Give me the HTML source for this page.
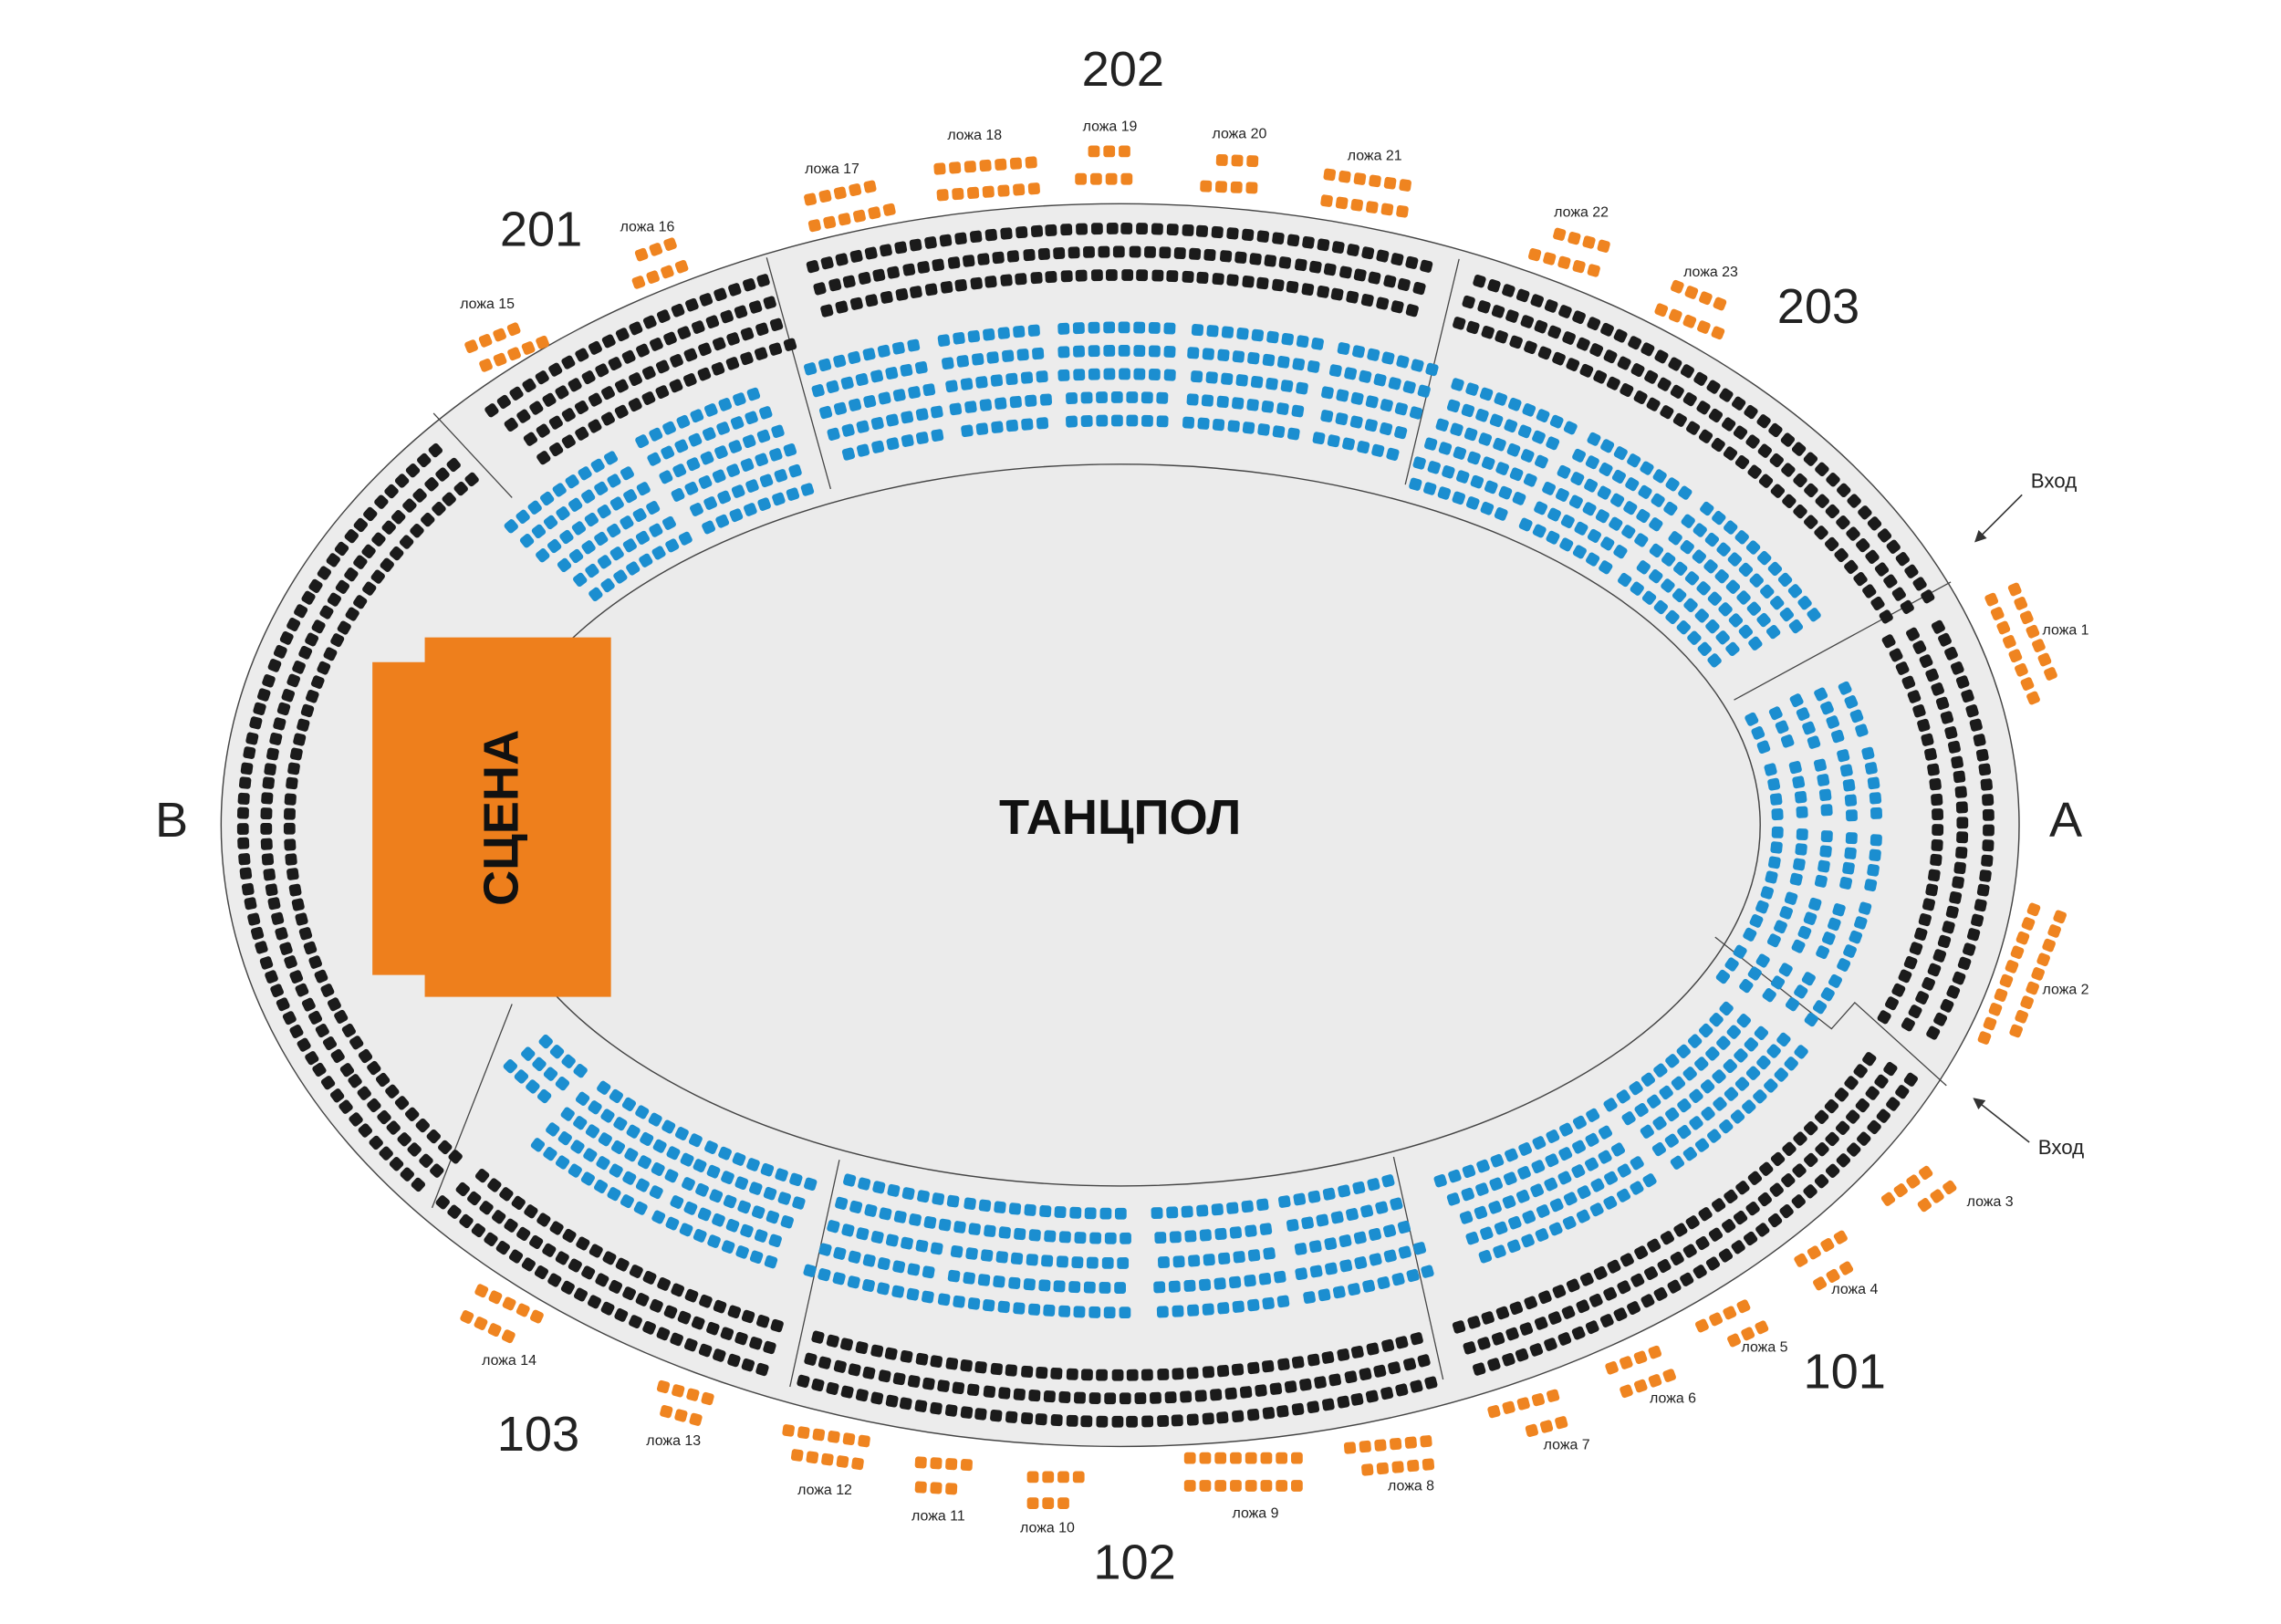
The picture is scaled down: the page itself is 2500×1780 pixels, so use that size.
<!DOCTYPE html>
<html><head><meta charset="utf-8">
<style>
html,body{margin:0;padding:0;background:#fff;}
svg{display:block;}
text{font-family:"Liberation Sans",sans-serif;}
</style></head>
<body>
<svg id="s" xmlns="http://www.w3.org/2000/svg" width="2500" height="1780" viewBox="0 0 1568 1116" preserveAspectRatio="none">
<rect width="1568" height="1116" fill="#fff"/>
<defs>
<marker id="ah" markerWidth="8" markerHeight="8" refX="7" refY="4" orient="auto" markerUnits="userSpaceOnUse">
<path d="M0,0 L8,4 L0,8 z" fill="#333"/></marker>
</defs>
<ellipse cx="770" cy="567" rx="618" ry="427" fill="#ececec" stroke="#444" stroke-width="0.9"/>
<ellipse cx="770" cy="567" rx="440" ry="248" fill="#ebebeb" stroke="#444" stroke-width="0.9"/>
<g stroke="#444" stroke-width="0.8" fill="none">
<polyline points="298,284 352,342"/>
<polyline points="527,177 571,336"/>
<polyline points="1003,178 966,333"/>
<polyline points="1341,400 1192,481"/>
<polyline points="1179,644 1259,707 1275,689 1338,746"/>
<polyline points="958,795 992,948"/>
<polyline points="577,797 543,953"/>
<polyline points="352,690 297,830"/>
</g>
<g id="seats"></g>
<g id="boxes"></g>
<path d="M292,438 H420 V685 H292 V670 H256 V455 H292 Z" fill="#ee7f1c"/>
<text x="0" y="0" transform="translate(356,562) rotate(-90)" text-anchor="middle" font-size="34" font-weight="bold" fill="#111">СЦЕНА</text>
<text x="770" y="573" text-anchor="middle" font-size="34" font-weight="bold" fill="#111">ТАНЦПОЛ</text>
<g font-size="34" fill="#222" text-anchor="middle">
<text x="772" y="59">202</text>
<text x="372" y="169">201</text>
<text x="1250" y="222">203</text>
<text x="1420" y="575">А</text>
<text x="118" y="575">В</text>
<text x="1268" y="954">101</text>
<text x="780" y="1085">102</text>
<text x="370" y="997">103</text>
</g>
<g font-size="14" fill="#222">
<text x="1396" y="335">Вход</text>
<text x="1401" y="793">Вход</text>
</g>
<line x1="1390" y1="340" x2="1358" y2="372" stroke="#333" stroke-width="1" marker-end="url(#ah)"/>
<line x1="1395" y1="785" x2="1357" y2="755" stroke="#333" stroke-width="1" marker-end="url(#ah)"/>
<g font-size="10" fill="#222" text-anchor="middle">
<text x="335" y="212">ложа 15</text>
<text x="445" y="159">ложа 16</text>
<text x="572" y="119">ложа 17</text>
<text x="670" y="96">ложа 18</text>
<text x="763" y="90">ложа 19</text>
<text x="852" y="95">ложа 20</text>
<text x="945" y="110">ложа 21</text>
<text x="1087" y="149">ложа 22</text>
<text x="1176" y="190">ложа 23</text>
<text x="1420" y="436">ложа 1</text>
<text x="1420" y="683">ложа 2</text>
<text x="1368" y="829">ложа 3</text>
<text x="1275" y="889">ложа 4</text>
<text x="1213" y="929">ложа 5</text>
<text x="1150" y="964">ложа 6</text>
<text x="1077" y="996">ложа 7</text>
<text x="970" y="1024">ложа 8</text>
<text x="863" y="1043">ложа 9</text>
<text x="720" y="1053">ложа 10</text>
<text x="645" y="1045">ложа 11</text>
<text x="567" y="1027">ложа 12</text>
<text x="463" y="993">ложа 13</text>
<text x="350" y="938">ложа 14</text>
</g>
</svg>
<script>
(function(){
var NS="http://www.w3.org/2000/svg";
var g=document.getElementById('seats');
var bx=document.getElementById('boxes');
var CX=770,CY=567,RX=618,RY=427;
function seat(par,x,y,ang,col){
 var r=document.createElementNS(NS,'rect');
 r.setAttribute('x',-4);r.setAttribute('y',-4);r.setAttribute('width',8);r.setAttribute('height',8);
 r.setAttribute('rx',2);r.setAttribute('fill',col);
 r.setAttribute('transform','translate('+x.toFixed(2)+','+y.toFixed(2)+') rotate('+ang.toFixed(1)+')');
 par.appendChild(r);
}
function row(d,t0,t1,col,pitch){
 pitch=pitch||10.4;
 var rx=RX-d, ry=RY-d, N=500, pts=[], L=0, prev=null;
 for(var i=0;i<=N;i++){
  var t=(t0+(t1-t0)*i/N)*Math.PI/180;
  var p=[CX+rx*Math.cos(t),CY+ry*Math.sin(t)];
  if(prev) L+=Math.hypot(p[0]-prev[0],p[1]-prev[1]);
  pts.push([p,L,t]); prev=p;
 }
 var n=Math.max(1,Math.floor(L/pitch)+1), off=(L-(n-1)*pitch)/2, j=0;
 for(var k=0;k<n;k++){
  var s=off+k*pitch;
  while(j<N && pts[j+1][1]<s) j++;
  var p=pts[j][0], t=pts[j][2];
  var ang=Math.atan2(ry*Math.cos(t),-rx*Math.sin(t))*180/Math.PI;
  seat(g,p[0],p[1],ang,col);
 }
}
var BK="#1b1b1b", BL="#1b8ed0", OR="#ef8420";
function blk(ds,t0,t1){ds.forEach(function(d){row(d,t0,t1,BK);});}
function blu(ds,blocks){ds.forEach(function(d){blocks.forEach(function(b){row(d,b[0],b[1],BL);});});}
blk([17,33,49],249,291);
blk([17,33,49,65],224,246);
blk([17,33,49],294,338);
blk([21,39,56],-20,21);
blk([17,33,49],25,66);
blk([17,33,49],69,111.5);
blk([17,33,49],114,141);
blk([15,31,47],143,219);
blu([85,101,117,133,149],[[246,255],[256.5,264],[265.5,274],[275.5,285],[286.5,294]]);
blu([90,105,120,135,150,165],[[217,229],[231,242]]);
blu([90,105,120,135,150,165],[[296,306],[307.5,318],[319.5,335]]);
blu([98,115,132,149,166],[[-17,-11],[-9,-1],[1,8],[10,17],[19,24]]);
blu([90,105,120,135,150],[[27,44],[46,62]]);
blu([92,109,126,143,160],[[66,76],[77.5,87],[89.5,103.5],[104.5,114]]);
blu([90,105,120,135,150],[[117,127],[128,140]]);
blu([120,135,150],[[142,148]]);
function lb(x,y,n,ang){
 var a=ang*Math.PI/180;
 for(var i=0;i<n;i++) seat(bx,x+i*10.5*Math.cos(a),y+i*10.5*Math.sin(a),ang,OR);
}
lb(324,238,4,-22); lb(334,251,5,-22);
lb(441,175,3,-20); lb(439,194,4,-20);
lb(557,137,5,-12); lb(560,155,6,-12);
lb(646,116,7,-4); lb(648,134,7,-4);
lb(752,104,3,0); lb(743,123,4,0);
lb(840,110,3,2); lb(829,128,4,2);
lb(914,120,6,8); lb(912,138,6,8);
lb(1072,161,4,15); lb(1055,175,5,15);
lb(1153,197,4,22); lb(1142,213,5,22);
lb(1369,412,8,67); lb(1385,405,7,67);
lb(1398,625,10,111); lb(1416,630,9,111);
lb(1298,824,4,-35); lb(1323,828,3,-35);
lb(1238,866,4,-30); lb(1251,882,3,-30);
lb(1170,911,4,-25); lb(1192,921,3,-25);
lb(1108,940,4,-20); lb(1118,956,4,-20);
lb(1027,970,5,-15); lb(1053,983,3,-15);
lb(928,995,6,-5); lb(940,1010,5,-5);
lb(818,1002,8,0); lb(818,1021,8,0);
lb(710,1015,4,0); lb(710,1033,3,0);
lb(633,1005,4,3); lb(633,1022,3,3);
lb(542,983,6,8); lb(548,1000,5,8);
lb(456,953,4,15); lb(458,970,3,15);
lb(331,887,5,25); lb(321,905,4,25);
})();
</script>
</body></html>
